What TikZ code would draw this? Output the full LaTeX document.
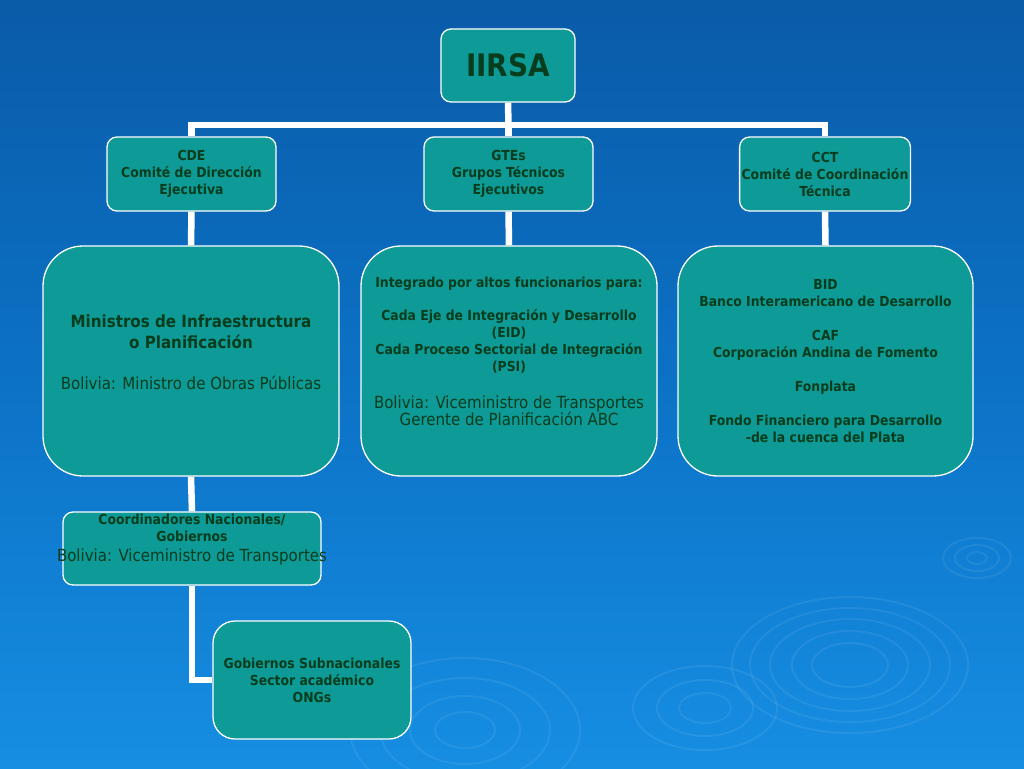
\documentclass[tikz,border=0pt]{standalone}
\usepackage{fontspec}
\IfFontExistsTF{DejaVu Sans Condensed}{\setmainfont{DejaVu Sans Condensed}}{\setmainfont{DejaVu Sans}}
\definecolor{bgtop}{HTML}{0A5BA8}
\definecolor{bgmid}{HTML}{0C72C6}
\definecolor{bgbot}{HTML}{168EE2}
\definecolor{boxfill}{HTML}{0E9A96}
\definecolor{boxtext}{HTML}{073D1C}
\pgfdeclarelayer{bg}
\pgfdeclarelayer{lines}
\pgfsetlayers{bg,lines,main}
\newcommand{\regfont}{\mdseries\fontsize{16.7}{21}\selectfont}
\newcommand{\medfont}{\bfseries\fontsize{16.8}{21}\selectfont}
\newcommand{\smfont}{\bfseries\fontsize{13.8}{17}\selectfont}
\tikzset{
  box/.style={draw=white, line width=1.3pt, fill=boxfill, text=boxtext, align=center, inner sep=2pt},
  smallbox/.style={box, rounded corners=10pt, font=\smfont},
  bigbox/.style={box, rounded corners=40pt, font=\smfont},
  txt/.style={text=boxtext, align=center, inner sep=0pt, font=\smfont},
  conn/.style={draw=white, line width=6.5pt},
  ripple/.style={draw=white, opacity=0.07, line width=2pt},
}
\begin{document}
\begin{tikzpicture}[x=1pt,y=-1pt]
\useasboundingbox (0,0) rectangle (1024,768);
\begin{pgfonlayer}{bg}
  \shade[top color=bgtop, bottom color=bgbot, middle color=bgmid] (0,0) rectangle (1024,768);
  \begin{scope}
    \clip (0,0) rectangle (1024,768);
    \foreach \rx/\ry in {118/68,100/57,80/46,58/34,38/22}
      \draw[ripple] (850,665) ellipse ({\rx} and {\ry});
    \foreach \rx/\ry in {34/20,22/13,10/6}
      \draw[ripple] (977,558) ellipse ({\rx} and {\ry});
    \foreach \rx/\ry in {72/42,48/28,26/15}
      \draw[ripple] (705,708) ellipse ({\rx} and {\ry});
    \foreach \rx/\ry in {115/72,85/52,55/34,30/18}
      \draw[ripple] (465,730) ellipse ({\rx} and {\ry});
  \end{scope}
\end{pgfonlayer}

\node[smallbox, minimum width=134pt, minimum height=73pt, font=\bfseries\fontsize{31}{34}\selectfont] (iirsa) at (508,65.5) {IIRSA};

\node[smallbox, minimum width=169pt, minimum height=74pt] (cde) at (191.5,174) {CDE\\Comité de Dirección\\Ejecutiva};
\node[smallbox, minimum width=169pt, minimum height=74pt] (gte) at (508.5,174) {GTEs\\Grupos Técnicos\\Ejecutivos};
\node[smallbox, minimum width=170pt, minimum height=74pt] (cct) at (825,174) {CCT\\Comité de Coordinación\\Técnica};

\node[bigbox, minimum width=296pt, minimum height=230pt] (min) at (191,361) {};
\node[txt, font=\medfont] (mintxt) at (191,352)
  {Ministros de Infraestructura\\o Planificación\\[20pt]\regfont Bolivia: Ministro de Obras Públicas};
\node[bigbox, minimum width=296pt, minimum height=230pt] (int) at (509,361) {};
\node[txt] (inttxt) at (509,351.5)
  {Integrado por altos funcionarios para:\\[16pt]Cada Eje de Integración y Desarrollo\\(EID)\\Cada Proceso Sectorial de Integración\\(PSI)\\[20pt]\regfont Bolivia: Viceministro de Transportes\\\regfont Gerente de Planificación ABC};
\node[bigbox, minimum width=295pt, minimum height=230pt] (bid) at (825.5,361)
  {BID\\Banco Interamericano de Desarrollo\\[17pt]CAF\\Corporación Andina de Fomento\\[17pt]Fonplata\\[17pt]Fondo Financiero para Desarrollo\\-de la cuenca del Plata};

\node[smallbox, minimum width=258pt, minimum height=73pt] (coord) at (192,548.5) {};
\node[txt] (coordtxt) at (192,539)
  {Coordinadores Nacionales/\\Gobiernos\\[3pt]\regfont Bolivia: Viceministro de Transportes};
\node[smallbox, rounded corners=22pt, minimum width=198pt, minimum height=118pt] (gob) at (312,680)
  {Gobiernos Subnacionales\\Sector académico\\ONGs};

\begin{pgfonlayer}{lines}
  \coordinate (bus) at (508.5,125);
  \draw[conn] (iirsa.south) -- (bus);
  \draw[conn] (cde.north) |- (bus) -| (cct.north);
  \draw[conn] (bus) -- (gte.north);
  \draw[conn] (cde.south) -- (min.north);
  \draw[conn] (gte.south) -- (int.north);
  \draw[conn] (cct.south) -- (bid.north);
  \draw[conn] (min.south) -- (coord.north);
  \draw[conn] (coord.south) |- (gob.west);
\end{pgfonlayer}
\end{tikzpicture}
\end{document}
